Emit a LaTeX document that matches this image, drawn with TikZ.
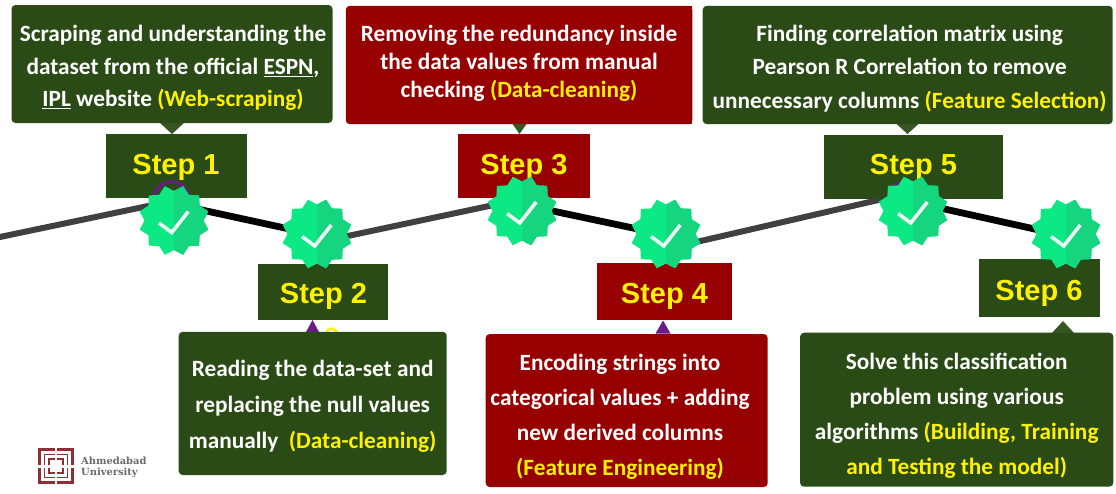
\documentclass[tikz,border=0pt]{standalone}
\usepackage{fontspec}
\setmainfont{Carlito}
\newfontfamily\stepfont{Liberation Sans}
\newfontfamily\logofont{DejaVu Serif}
\usetikzlibrary{shapes.geometric}
\definecolor{darkgrn}{HTML}{2B4B16}
\definecolor{ptrgrn}{HTML}{375623}
\definecolor{darkred}{HTML}{970000}
\definecolor{purp}{HTML}{6A1B8A}
\definecolor{lineg}{HTML}{404040}
\definecolor{bdgL}{HTML}{0CE884}
\definecolor{bdgR}{HTML}{16D57F}
\definecolor{logor}{HTML}{8E2F36}
\definecolor{logog}{HTML}{6A6A6A}
\newcommand\ylw[1]{\textcolor{yellow}{#1}}
\tikzset{
  x=1pt,y=-1pt,
  infobox/.style={rounded corners=4pt,inner sep=0pt},
  infotext/.style={text=white,align=center,inner sep=0pt,font=\bfseries\fontsize{23.3}{#1}\selectfont},
  stepbox/.style={inner sep=0pt},
  steptext/.style={inner sep=0pt,text=yellow,font=\stepfont\bfseries\fontsize{29}{32}\selectfont},
  roadg/.style={line width=6pt,color=lineg},
  roadk/.style={line width=6.8pt,color=black},
  ptr/.style={fill=ptrgrn},
  ptrp/.style={fill=purp},
  badge/.style={star,star points=12,star point ratio=1.2,shape border rotate=15,minimum size=71pt,inner sep=0pt,fill=bdgL,
    path picture={
      \fill[bdgR] (path picture bounding box.north) rectangle (path picture bounding box.south east);
      \draw[line width=3.6pt,color=white!92!bdgL]
        ([shift={(-15pt,-2.5pt)}]path picture bounding box.center) --
        ([shift={(-2.3pt,-12pt)}]path picture bounding box.center) --
        ([shift={(14.3pt,9pt)}]path picture bounding box.center);
    }},
}
\begin{document}
\begin{tikzpicture}
\useasboundingbox (0,0) rectangle (1116,493);
% road
\coordinate (r0) at (-3,237.6);
\coordinate (r1) at (172,201);
\coordinate (r1b) at (172,203.5);
\coordinate (r2) at (317,235);
\coordinate (r2b) at (317,242.5);
\coordinate (r3) at (522,199);
\coordinate (r3b) at (522,204.5);
\coordinate (r4) at (666,235);
\coordinate (r4b) at (666,249);
\coordinate (r5) at (913,192);
\coordinate (r5b) at (913,202);
\coordinate (r6) at (1066,236);
\draw[roadg] (r0) -- (r1);
\draw[roadk] (r1b) -- (r2);
\draw[roadg] (r2b) -- (r3);
\draw[roadk] (r3b) -- (r4);
\draw[roadg] (r4b) -- (r5);
\draw[roadk] (r5b) -- (r6);
% step boxes
\node[stepbox,fill=darkgrn,minimum width=140.5pt,minimum height=64pt] (s1) at (176.7,166) {};
\node[stepbox,fill=darkgrn,minimum width=130pt,minimum height=56.5pt] (s2) at (323,291.8) {};
\node[stepbox,fill=darkred,minimum width=132pt,minimum height=64pt] (s3) at (524,166.3) {};
\node[stepbox,fill=darkred,minimum width=135pt,minimum height=57.6pt] (s4) at (664.5,291.5) {};
\node[stepbox,fill=darkgrn,minimum width=179pt,minimum height=64.3pt] (s5) at (913.5,166.8) {};
\node[stepbox,fill=darkgrn,minimum width=120.4pt,minimum height=57.4pt] (s6) at (1039.5,288) {};
\node[steptext] (s1t) at (176,167.5) {Step 1};
\node[steptext] (s2t) at (323.5,296.5) {Step 2};
\node[steptext] (s3t) at (524,167) {Step 3};
\node[steptext] (s4t) at (664.5,296.5) {Step 4};
\node[steptext] (s5t) at (913.5,167.5) {Step 5};
\node[steptext] (s6t) at (1039,293.5) {Step 6};
% stray marks behind the badges
\draw[purp,line width=3pt] (171.5,200) circle (18pt);
\draw[purp,line width=3pt] (906,200) circle (18pt);
\draw[yellow,line width=2.5pt] (331.5,334) circle (5.5pt);
% pointers
\coordinate (t1) at (172,134);
\coordinate (t3) at (519.5,134);
\coordinate (t5) at (907.5,134);
\coordinate (t2) at (312.5,320);
\coordinate (t4) at (663,320.5);
\coordinate (t6) at (1063,321);
\fill[ptr] (t1) -- ++(-12,-11) -- ++(24,0) -- cycle;
\fill[ptr] (t3) -- ++(-7,-10) -- ++(14,0) -- cycle;
\fill[ptr] (t5) -- ++(-12,-11) -- ++(24,0) -- cycle;
\fill[ptrp] (t2) -- ++(-7,13) -- ++(14,0) -- cycle;
\fill[ptrp] (t4) -- ++(-7.5,13) -- ++(15,0) -- cycle;
\fill[ptr] (t6) -- ++(-12,13) -- ++(24,0) -- cycle;
% info boxes
\node[infobox,fill=darkgrn,minimum width=321pt,minimum height=118pt] (b1) at (172,64) {};
\node[infobox,fill=darkred,minimum width=346.5pt,minimum height=118.3pt] (b3) at (519,65) {};
\fill[darkred] (b3.north) rectangle (b3.south east);
\node[infobox,fill=darkgrn,minimum width=410pt,minimum height=118.3pt] (b5) at (907.7,65) {};
\node[infobox,fill=darkgrn,minimum width=268pt,minimum height=143.3pt] (b2) at (312.7,403.4) {};
\node[infobox,fill=darkred,minimum width=282pt,minimum height=153pt] (b4) at (626.7,410.5) {};
\node[infobox,fill=darkgrn,minimum width=313.3pt,minimum height=154pt] (b6) at (956.7,409.7) {};
\node[infotext=32.5] (b1t) at (173,68)
 {Scraping and understanding the\\dataset from the official \underline{ESPN},\\\underline{IPL} website \ylw{(Web-scraping)}};
\node[infotext=28] (b3t) at (519,63)
 {Removing the redundancy inside\\the data values from manual\\checking \ylw{(Data-cleaning)}};
\node[infotext=33.5] (b5t) at (909.7,68.5)
 {Finding correlation matrix using\\Pearson R Correlation to remove\\unnecessary columns \ylw{(Feature Selection)}};
\node[infotext=36] (b2t) at (312.7,406.4)
 {Reading the data-set and\\replacing the null values\\manually\ \ \ylw{(Data-cleaning)}};
\node[infotext=35] (b4t) at (620,416.5)
 {Encoding strings into\\categorical values + adding\\new derived columns\\\ylw{(Feature Engineering)}};
\node[infotext=35] (b6t) at (956.7,416.2)
 {Solve this classification\\problem using various\\algorithms \ylw{(Building, Training}\\\ylw{and Testing the model)}};
% badges
\node[badge] (c1) at (174,220.5) {};
\node[badge] (c2) at (317,234) {};
\node[badge] (c3) at (522,211) {};
\node[badge] (c4) at (666,234) {};
\node[badge] (c5) at (913,211) {};
\node[badge] (c6) at (1066,234) {};
% logo
\draw[logor,line width=2.4pt] (39.5,449.5) rectangle (72.5,482.5);
\draw[logor,line width=1.8pt] (44.5,454.5) rectangle (67.5,477.5);
\draw[logor,line width=1.5pt] (49,459) rectangle (63,473);
\fill[white] (54.8,447) rectangle (57.2,485);
\fill[white] (37,464.5) rectangle (75,467.5);
\node[anchor=west,inner sep=0pt,text=logog,font=\logofont\bfseries\fontsize{9.9}{10.5}\selectfont,align=left] (logo) at (81,467.5) {Ahmedabad\\University};
\end{tikzpicture}
\end{document}
